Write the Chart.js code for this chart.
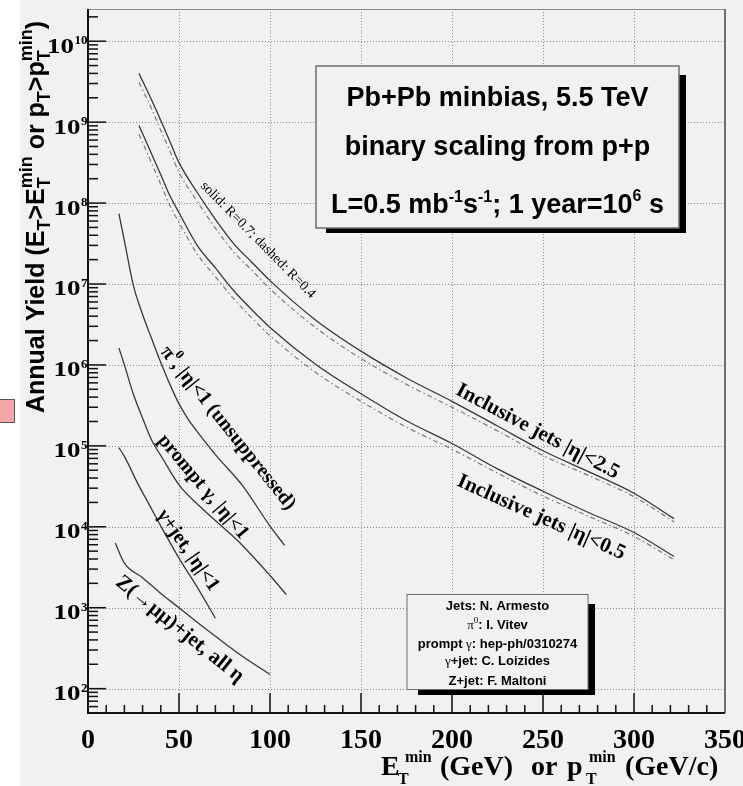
<!DOCTYPE html>
<html>
<head>
<meta charset="utf-8">
<script src="https://cdn.jsdelivr.net/npm/chart.js@4.4.1/dist/chart.umd.min.js"></script>
<style>
  html, body { margin: 0; padding: 0; background: #fff; }
  canvas { display: block; }
</style>
</head>
<body>
<canvas id="yieldChart" width="743" height="786"></canvas>
<script>
// Inclusive jets: E_T^min (GeV) and annual yields, R=0.7 (solid) and R=0.4 (dashed)
const jetX = [28, 35, 40, 45, 50, 60, 70, 80, 90, 100, 125, 150, 175, 200, 225, 250, 275, 300, 322];
const jetsEta25R07 = [4.0e9, 1.86e9, 1.05e9, 5.75e8, 3.16e8, 1.35e8, 6.3e7, 3.16e7, 1.86e7, 1.1e7, 3.6e6, 1.48e6, 6.9e5, 3.55e5, 1.76e5, 8.7e4, 4.8e4, 2.6e4, 1.26e4];
const jetsEta25R04 = [3.1e9, 1.45e9, 7.9e8, 4.4e8, 2.4e8, 1.05e8, 4.9e7, 2.5e7, 1.48e7, 8.7e6, 2.9e6, 1.2e6, 5.75e5, 3.0e5, 1.53e5, 7.6e4, 4.3e4, 2.35e4, 1.15e4];
const jetsEta05R07 = [9.1e8, 4.0e8, 2.24e8, 1.23e8, 7.6e7, 3.0e7, 1.58e7, 8.3e6, 4.8e6, 2.9e6, 1.02e6, 4.4e5, 2.04e5, 1.07e5, 5.2e4, 2.75e4, 1.5e4, 8.5e3, 4.3e3];
const jetsEta05R04 = [7.1e8, 3.1e8, 1.7e8, 9.3e7, 5.75e7, 2.35e7, 1.23e7, 6.6e6, 3.8e6, 2.3e6, 8.1e5, 3.55e5, 1.7e5, 9.1e4, 4.6e4, 2.4e4, 1.35e4, 7.6e3, 3.9e3];

// pi0, |eta|<1 (unsuppressed)
const pi0X = [17, 20, 25, 30, 35, 40, 45, 50, 55, 60, 70, 85, 100, 108];
const pi0Yield = [7.4e7, 3.4e7, 9.5e6, 4.2e6, 2.1e6, 1.07e6, 5.75e5, 3.3e5, 2.14e5, 1.5e5, 7.8e4, 3.2e4, 1.02e4, 5.9e3];

// prompt photons, |eta|<1
const gammaX = [17, 20, 25, 30, 35, 40, 50, 63, 83, 100, 109];
const gammaYield = [1.62e6, 1.0e6, 4.3e5, 2.2e5, 1.17e5, 7.6e4, 3.3e4, 1.66e4, 6.5e3, 2.5e3, 1.45e3];

// gamma+jet, |eta|<1
const gammaJetX = [17, 20, 28, 32, 41, 50, 60, 70];
const gammaJetYield = [9.5e4, 7.4e4, 3.2e4, 2.2e4, 9.3e3, 4.1e3, 1.8e3, 740];

// Z(->mu mu)+jet, all eta
const zJetX = [15, 20, 30, 40, 50, 60, 72, 85, 100];
const zJetYield = [6.3e3, 3.55e3, 2.35e3, 1.5e3, 1.0e3, 660, 410, 250, 150];

// axis ticks
const xTicks = [0, 50, 100, 150, 200, 250, 300, 350];
const yDecades = [2, 3, 4, 5, 6, 7, 8, 9, 10];

const SERIF = "'Liberation Serif', 'DejaVu Serif', serif";
const SANS = "'Liberation Sans', Arial, sans-serif";
const BG = '#f1f1f1';

function toPoints(xs, ys) {
  return xs.map((x, i) => ({ x: x, y: ys[i] }));
}

function solid(data) {
  return { data: data, borderColor: '#383838', borderWidth: 1.3, pointRadius: 0, fill: false, cubicInterpolationMode: 'monotone' };
}

function dashed(data) {
  return { data: data, borderColor: '#7a7a7a', borderWidth: 1.2, borderDash: [5, 3, 1.5, 3], pointRadius: 0, fill: false, cubicInterpolationMode: 'monotone' };
}

// draws a run of text pieces; a piece is {t} or a stacked {sub, sup}
function drawRich(ctx, segs, x, y, align) {
  const widths = segs.map(s => {
    ctx.font = s.font;
    if (s.t !== undefined) return ctx.measureText(s.t).width;
    return Math.max(ctx.measureText(s.sub).width, ctx.measureText(s.sup).width);
  });
  const total = widths.reduce((a, b) => a + b, 0);
  let cx = align === 'center' ? x - total / 2 : align === 'right' ? x - total : x;
  ctx.textAlign = 'left';
  segs.forEach((s, i) => {
    ctx.font = s.font;
    if (s.t !== undefined) {
      ctx.fillText(s.t, cx, y + (s.dy || 0));
    } else {
      ctx.fillText(s.sub, cx, y + s.dySub);
      ctx.fillText(s.sup, cx, y + s.dySup);
    }
    cx += widths[i];
  });
}

const lbl = 'bold 20px ' + SERIF;
const lblSup = 'bold 13px ' + SERIF;
const curveLabels = [
  { x: 247, y: 1.5e5, deg: 27.9, segs: [{ t: 'Inclusive jets |η|<2.5', font: 'bold 21px ' + SERIF }] },
  { x: 249, y: 1.3e4, deg: 24.1, segs: [{ t: 'Inclusive jets |η|<0.5', font: 'bold 21px ' + SERIF }] },
  { x: 93.4, y: 3.5e7, deg: 45.4, segs: [{ t: 'solid: R=0.7; dashed: R=0.4', font: '14px ' + SERIF }] },
  { x: 76.9, y: 1.65e5, deg: 51.2, segs: [{ t: 'π', font: lbl }, { t: '0', font: lblSup, dy: -8 }, { t: ', |η|<1 (unsuppressed)', font: lbl }] },
  { x: 63.2, y: 3.1e4, deg: 50, segs: [{ t: 'prompt γ, |η|<1', font: lbl }] },
  { x: 54.9, y: 5.1e3, deg: 55.2, segs: [{ t: 'γ+jet, |η|<1', font: lbl }] },
  { x: 50.4, y: 540, deg: 38.8, segs: [{ t: 'Z(→μμ)+jet, all η', font: 'bold 21px ' + SERIF }] }
];

const framePlugin = {
  id: 'frame',
  beforeDraw(chart) {
    const ctx = chart.ctx;
    ctx.save();
    ctx.fillStyle = '#fff';
    ctx.fillRect(0, 0, chart.width, chart.height);
    ctx.fillStyle = BG;
    ctx.fillRect(20, 0, chart.width - 20, chart.height);
    // small marker at the left edge
    ctx.fillStyle = '#f4a7aa';
    ctx.fillRect(0, 399, 15, 24);
    ctx.strokeStyle = '#555';
    ctx.lineWidth = 1;
    ctx.strokeRect(-1, 399.5, 15.5, 23);
    ctx.restore();
  },
  beforeDatasetsDraw(chart) {
    const ctx = chart.ctx;
    const a = chart.chartArea;
    const xs = chart.scales.x, ys = chart.scales.y;
    ctx.save();
    ctx.strokeStyle = '#8c8c8c';
    ctx.lineWidth = 1;
    ctx.setLineDash([1, 2]);
    xTicks.slice(1, -1).forEach(v => {
      const px = Math.round(xs.getPixelForValue(v)) + 0.5;
      ctx.beginPath(); ctx.moveTo(px, a.top); ctx.lineTo(px, a.bottom); ctx.stroke();
    });
    yDecades.forEach(e => {
      const py = Math.round(ys.getPixelForValue(Math.pow(10, e))) + 0.5;
      ctx.beginPath(); ctx.moveTo(a.left, py); ctx.lineTo(a.right, py); ctx.stroke();
    });
    ctx.restore();
  },
  afterDatasetsDraw(chart) {
    const ctx = chart.ctx;
    const a = chart.chartArea;
    const xs = chart.scales.x, ys = chart.scales.y;
    ctx.save();
    ctx.setLineDash([]);

    // frame
    ctx.strokeStyle = '#8a8a8a';
    ctx.lineWidth = 1;
    ctx.beginPath(); ctx.moveTo(a.left, a.top + 0.5); ctx.lineTo(a.right, a.top + 0.5); ctx.stroke();
    ctx.strokeStyle = '#444';
    ctx.lineWidth = 1.5;
    ctx.beginPath(); ctx.moveTo(a.right, a.top); ctx.lineTo(a.right, a.bottom); ctx.stroke();
    ctx.strokeStyle = '#111';
    ctx.lineWidth = 2;
    ctx.beginPath(); ctx.moveTo(a.left, a.top); ctx.lineTo(a.left, a.bottom); ctx.lineTo(a.right, a.bottom); ctx.stroke();

    // x ticks: major every 50, minor every 10
    ctx.lineWidth = 1.5;
    for (let v = 10; v < 350; v += 10) {
      const px = xs.getPixelForValue(v);
      const len = v % 50 === 0 ? 20 : 8;
      ctx.beginPath(); ctx.moveTo(px, a.bottom); ctx.lineTo(px, a.bottom - len); ctx.stroke();
    }
    // y ticks: decades and 2..9 subdivisions
    for (let e = 1; e <= 10; e++) {
      for (let m = 1; m <= 9; m++) {
        const v = m * Math.pow(10, e);
        if (v < ys.min || v > ys.max) continue;
        const py = ys.getPixelForValue(v);
        const len = m === 1 ? 18 : 10;
        ctx.beginPath(); ctx.moveTo(a.left, py); ctx.lineTo(a.left + len, py); ctx.stroke();
      }
    }

    ctx.fillStyle = '#000';
    ctx.textBaseline = 'alphabetic';

    // x tick labels
    ctx.font = 'bold 28px ' + SERIF;
    ctx.textAlign = 'center';
    xTicks.forEach(v => ctx.fillText(String(v), xs.getPixelForValue(v), 748));

    // y tick labels 10^n
    yDecades.forEach(e => {
      const py = ys.getPixelForValue(Math.pow(10, e));
      ctx.font = 'bold 20px ' + SERIF;
      const wMain = ctx.measureText('10').width * 1.35;
      ctx.font = 'bold 13px ' + SERIF;
      const wSup = ctx.measureText(String(e)).width;
      const x0 = 87 - wMain - wSup;
      ctx.save();
      ctx.translate(x0, py + 11.5);
      ctx.scale(1.35, 1);
      ctx.font = 'bold 20px ' + SERIF;
      ctx.textAlign = 'left';
      ctx.fillText('10', 0, 0);
      ctx.restore();
      ctx.font = 'bold 13px ' + SERIF;
      ctx.textAlign = 'left';
      ctx.fillText(String(e), x0 + wMain + 0.5, py + 3);
    });

    // x axis title
    const xt = 'bold 28px ' + SERIF, xs2 = 'bold 16px ' + SERIF;
    ctx.textAlign = 'left';
    ctx.font = xt;
    ctx.fillText('E', 381, 775);
    ctx.font = xs2;
    ctx.fillText('T', 398, 784);
    ctx.fillText('min', 405, 762);
    ctx.font = xt;
    ctx.fillText('(GeV)', 440, 775);
    ctx.fillText('or', 531, 775);
    ctx.fillText('p', 567, 775);
    ctx.font = xs2;
    ctx.fillText('T', 586, 784);
    ctx.fillText('min', 589, 762);
    ctx.font = xt;
    ctx.fillText('(GeV/c)', 625, 775);

    // y axis title
    const yt = 'bold 25px ' + SANS, ysb = 'bold 18px ' + SANS;
    ctx.save();
    ctx.translate(44, 413);
    ctx.rotate(-Math.PI / 2);
    drawRich(ctx, [
      { t: 'Annual Yield (E', font: yt },
      { t: 'T', font: ysb, dy: 6 },
      { t: '>E', font: yt },
      { sub: 'T', sup: 'min', font: ysb, dySub: 6, dySup: -12 },
      { t: ' or p', font: yt },
      { t: 'T', font: ysb, dy: 6 },
      { t: '>p', font: yt },
      { sub: 'T', sup: 'min', font: ysb, dySub: 6, dySup: -12 },
      { t: ')', font: yt }
    ], 0, 0, 'left');
    ctx.restore();

    // curve labels
    curveLabels.forEach(l => {
      ctx.save();
      ctx.translate(xs.getPixelForValue(l.x), ys.getPixelForValue(l.y));
      ctx.rotate(l.deg * Math.PI / 180);
      ctx.textBaseline = 'middle';
      drawRich(ctx, l.segs, 0, 0, 'center');
      ctx.restore();
    });

    // info box: collision system and luminosity
    ctx.textBaseline = 'alphabetic';
    ctx.fillStyle = '#000';
    ctx.fillRect(326, 75, 360, 158);
    ctx.fillStyle = BG;
    ctx.fillRect(316, 66, 363, 162);
    ctx.strokeStyle = '#6e6e6e';
    ctx.lineWidth = 1.5;
    ctx.strokeRect(316, 66, 363, 162);
    ctx.fillStyle = '#000';
    const bf = 'bold 27px ' + SANS, bs = 'bold 16px ' + SANS;
    drawRich(ctx, [{ t: 'Pb+Pb minbias, 5.5 TeV', font: bf }], 497.5, 106, 'center');
    drawRich(ctx, [{ t: 'binary scaling from p+p', font: bf }], 497.5, 155, 'center');
    drawRich(ctx, [
      { t: 'L=0.5 mb', font: bf }, { t: '-1', font: bs, dy: -11 },
      { t: 's', font: bf }, { t: '-1', font: bs, dy: -11 },
      { t: '; 1 year=10', font: bf }, { t: '6', font: bs, dy: -12 },
      { t: ' s', font: bf }
    ], 497.5, 213, 'center');

    // credits box
    ctx.fillStyle = '#000';
    ctx.fillRect(418, 604, 177, 91);
    ctx.fillStyle = BG;
    ctx.fillRect(407, 594.5, 181, 95);
    ctx.strokeStyle = '#6e6e6e';
    ctx.lineWidth = 1;
    ctx.strokeRect(407, 594.5, 181, 95);
    ctx.fillStyle = '#000';
    const cf = 'bold 13px ' + SANS, cg = '13px ' + SERIF, cs = '9px ' + SERIF;
    drawRich(ctx, [{ t: 'Jets: N. Armesto', font: cf }], 497.5, 609.5, 'center');
    drawRich(ctx, [{ t: 'π', font: cg }, { t: '0', font: cs, dy: -6 }, { t: ': I. Vitev', font: cf }], 497.5, 628.5, 'center');
    drawRich(ctx, [{ t: 'prompt ', font: cf }, { t: 'γ', font: cg }, { t: ': hep-ph/0310274', font: cf }], 497.5, 647.5, 'center');
    drawRich(ctx, [{ t: 'γ', font: cg }, { t: '+jet: C. Loizides', font: cf }], 497.5, 665, 'center');
    drawRich(ctx, [{ t: 'Z+jet: F. Maltoni', font: cf }], 497.5, 684.5, 'center');

    ctx.restore();
  }
};

new Chart(document.getElementById('yieldChart'), {
  type: 'line',
  data: {
    datasets: [
      solid(toPoints(jetX, jetsEta25R07)),
      dashed(toPoints(jetX, jetsEta25R04)),
      solid(toPoints(jetX, jetsEta05R07)),
      dashed(toPoints(jetX, jetsEta05R04)),
      solid(toPoints(pi0X, pi0Yield)),
      solid(toPoints(gammaX, gammaYield)),
      solid(toPoints(gammaJetX, gammaJetYield)),
      solid(toPoints(zJetX, zJetYield))
    ]
  },
  options: {
    responsive: false,
    animation: false,
    devicePixelRatio: 1,
    layout: { padding: { left: 88, right: 18, top: 9, bottom: 73 } },
    plugins: { legend: { display: false }, tooltip: { enabled: false } },
    scales: {
      x: { type: 'linear', min: 0, max: 350, display: false },
      y: { type: 'logarithmic', min: 50, max: 2.5e10, display: false }
    }
  },
  plugins: [framePlugin]
});
</script>
</body>
</html>
